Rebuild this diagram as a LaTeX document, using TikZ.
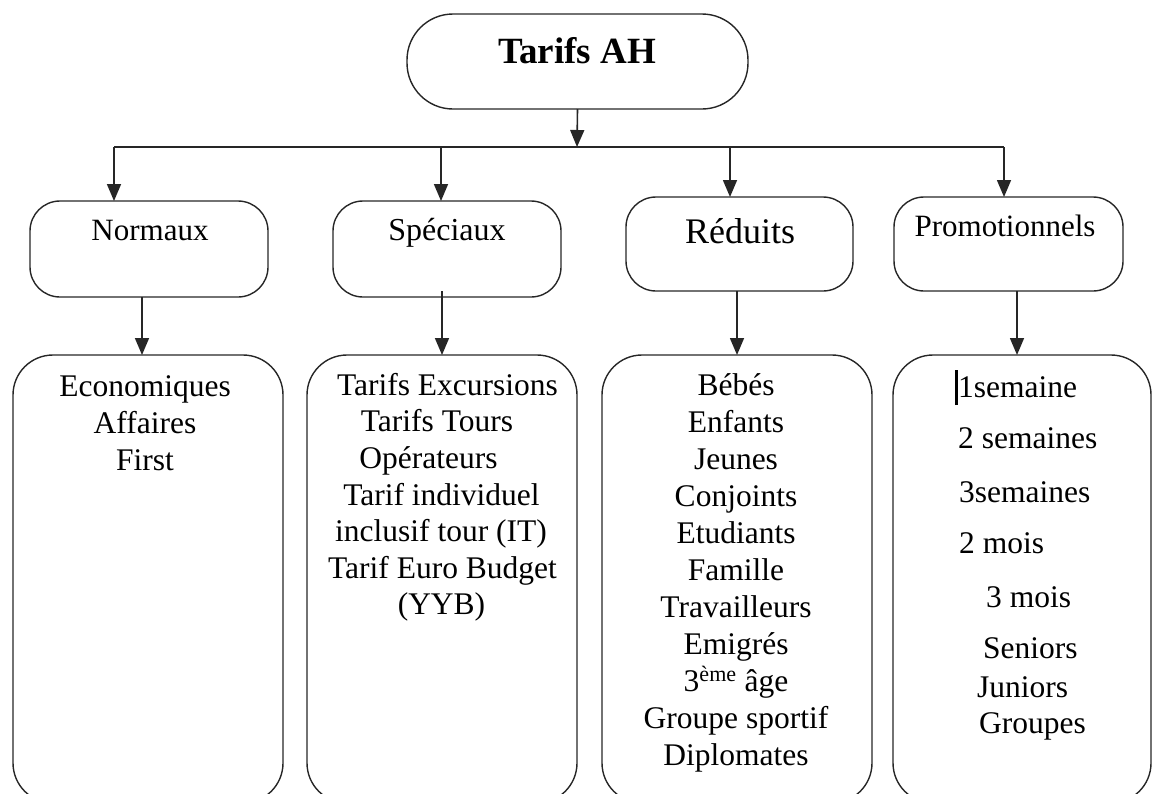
\documentclass[tikz,border=0pt]{standalone}
\usepackage{fontspec}
\setmainfont{Liberation Serif}
\usetikzlibrary{arrows.meta}
\begin{document}
\begin{tikzpicture}[x=1pt,y=-1pt,
  frame/.style={draw=black!85,line width=1.4pt,rounded corners=#1,
    inner sep=0pt,outer sep=0pt},
  link/.style={draw=black!85,line width=1.6pt},
  arrow/.style={link,-{Triangle[width=14pt,length=17pt]}},
  txt/.style={anchor=base,inner sep=0pt,font=\fontsize{31.5}{37}\selectfont},
  txtw/.style={anchor=base west,inner sep=0pt,font=\fontsize{31.5}{37}\selectfont}]

\clip (0,0) rectangle (1153,793);

% root
\node[frame=46pt,minimum width=341pt,minimum height=95pt] (root) at (577.5,61.5) {};
\node[anchor=base,inner sep=0pt,font=\fontsize{37}{40}\selectfont\bfseries] (rootlbl) at (577,63) {Tarifs AH};

% second level
\node[frame=30pt,minimum width=238pt,minimum height=96pt] (normaux) at (149,249) {};
\node[frame=30pt,minimum width=228pt,minimum height=96pt] (speciaux) at (447,249) {};
\node[frame=30pt,minimum width=227pt,minimum height=94pt] (reduits) at (739.5,244) {};
\node[frame=30pt,minimum width=229pt,minimum height=94pt] (promo) at (1008.5,244) {};

\node[txt,font=\fontsize{31}{37}\selectfont] (normauxlbl) at (150,240) {Normaux};
\node[txt,font=\fontsize{32}{37}\selectfont] (speciauxlbl) at (447,240) {Spéciaux};
\node[txt,font=\fontsize{36}{40}\selectfont] (reduitslbl) at (740,243) {Réduits};
\node[txt,font=\fontsize{31}{37}\selectfont] (promolbl) at (1005,236) {Promotionnels};

% third level
\node[frame=40pt,minimum width=270pt,minimum height=448pt] (nlist) at (148,579) {};
\node[frame=40pt,minimum width=270pt,minimum height=448pt] (slist) at (442,579) {};
\node[frame=40pt,minimum width=270pt,minimum height=448pt] (rlist) at (737,579) {};
\node[frame=40pt,minimum width=258pt,minimum height=448pt] (plist) at (1022,579) {};

% connectors: root to the bus, bus to each category
\coordinate (busL) at (114,147);
\coordinate (busR) at (1004,147);
\coordinate (busC) at (577,147);
\coordinate (busS) at (441,147);
\coordinate (busD) at (730,147);
\draw[arrow] (root.south) -- (busC);
\draw[link] (busL) -- (busR);
\draw[arrow] (busL) -- (busL |- normaux.north);
\draw[arrow] (busS) -- (busS |- speciaux.north);
\draw[arrow] (busD) -- (busD |- reduits.north);
\draw[arrow] (busR) -- (busR |- promo.north);

% connectors: category to its list
\coordinate (colN) at (142,0);
\coordinate (colS) at (442,0);
\coordinate (colR) at (737,0);
\coordinate (colP) at (1017,0);
\draw[arrow] (colN |- normaux.south) -- (colN |- nlist.north);
\draw[arrow] ([yshift=6pt]colS |- speciaux.south) -- (colS |- slist.north);
\draw[arrow] (colR |- reduits.south) -- (colR |- rlist.north);
\draw[arrow] (colP |- promo.south) -- (colP |- plist.north);

% Normaux list
\foreach \t [count=\i] in {Economiques,Affaires,First}
  \node[txt] (n\i) at (145,{396+37*(\i-1)}) {\t};

% Spéciaux list
\node[txt] (s1) at (447.5,395) {Tarifs Excursions};
\node[txt] (s2) at (437,431) {Tarifs Tours};
\node[txt] (s3) at (428.5,468) {Opérateurs};
\node[txt] (s4) at (441.5,505) {Tarif individuel};
\node[txt] (s5) at (441,541) {inclusif tour (IT)};
\node[txt] (s6) at (442.5,578) {Tarif Euro Budget};
\node[txt] (s7) at (441.5,614) {(YYB)};

% Réduits list
\foreach \t [count=\i] in {Bébés,Enfants,Jeunes,Conjoints,Etudiants,Famille,
    Travailleurs,Emigrés,{3\textsuperscript{ème} âge},Groupe sportif,Diplomates}
  \node[txt] (r\i) at (736,{395+37*(\i-1)}) {\t};

% Promotionnels list
\node[txtw] (p1) at (958,397) {\makebox[0pt][r]{\rule[-8pt]{3.5pt}{35pt}}1semaine};
\node[txtw] (p2) at (958,448) {2 semaines};
\node[txtw] (p3) at (959,502) {3semaines};
\node[txtw] (p4) at (959,553) {2 mois};
\node[txtw] (p5) at (986,607) {3 mois};
\node[txtw] (p6) at (983,658) {Seniors};
\node[txtw] (p7) at (977,697) {Juniors};
\node[txtw] (p8) at (979,733) {Groupes};
\end{tikzpicture}
\end{document}
